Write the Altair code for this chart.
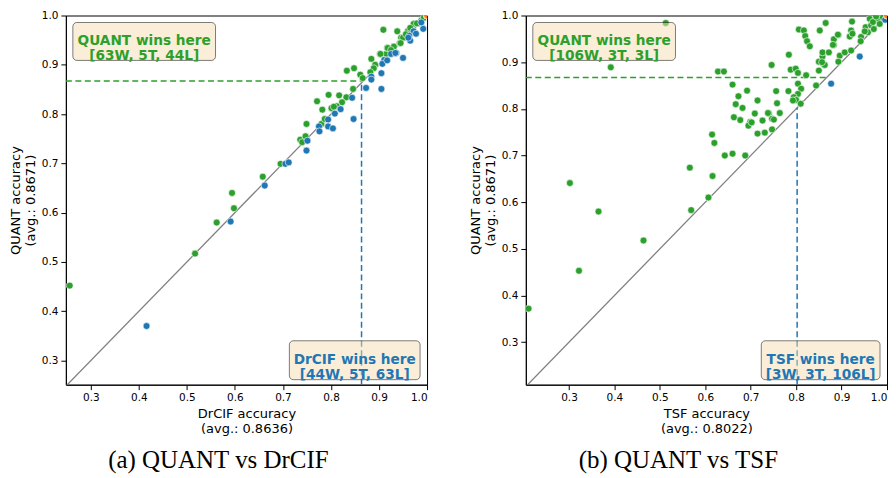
import altair as alt
import pandas as pd

# ---------------- data: QUANT vs DrCIF ----------------
dr_win_x = [0.909, 0.938, 0.960, 0.974, 0.981, 0.988, 0.993, 0.946, 0.952, 0.902, 0.915, 0.917,
            0.931, 0.943, 0.884, 0.892, 0.889, 0.882, 0.833, 0.848, 0.861, 0.846, 0.795, 0.817,
            0.832, 0.823, 0.771, 0.782, 0.801, 0.812, 0.780, 0.787, 0.749, 0.736, 0.740, 0.747,
            0.695, 0.658, 0.594, 0.598, 0.562, 0.517, 0.256, 0.972, 0.979, 0.950, 0.945, 0.918,
            0.903, 0.965, 0.956, 0.925, 0.866, 0.806]
dr_win_y = [0.971, 0.968, 0.968, 0.984, 0.984, 0.990, 0.995, 0.955, 0.955, 0.922, 0.922, 0.934,
            0.937, 0.944, 0.912, 0.900, 0.893, 0.885, 0.888, 0.893, 0.880, 0.851, 0.839, 0.838,
            0.834, 0.824, 0.826, 0.809, 0.812, 0.816, 0.780, 0.790, 0.780, 0.748, 0.743, 0.755,
            0.699, 0.673, 0.640, 0.609, 0.580, 0.517, 0.452, 0.983, 0.984, 0.955, 0.944, 0.934,
            0.922, 0.975, 0.962, 0.930, 0.873, 0.815]
dr_loss_x = [0.992, 0.972, 0.963, 0.965, 0.950, 0.936, 0.925, 0.911, 0.907, 0.905, 0.905, 0.884,
             0.884, 0.873, 0.844, 0.847, 0.820, 0.808, 0.794, 0.775, 0.776, 0.794, 0.804, 0.751,
             0.749, 0.705, 0.712, 0.662, 0.591, 0.416, 0.977, 0.934, 0.917, 0.988, 0.961]
dr_loss_y = [0.973, 0.968, 0.959, 0.949, 0.914, 0.924, 0.922, 0.910, 0.902, 0.883, 0.851, 0.876,
             0.870, 0.853, 0.833, 0.790, 0.810, 0.801, 0.789, 0.775, 0.765, 0.775, 0.771, 0.746,
             0.726, 0.699, 0.702, 0.655, 0.582, 0.370, 0.963, 0.924, 0.909, 0.986, 0.955]
dr_tie_x = [1.0, 1.0, 1.0, 1.0, 1.0]
dr_tie_y = [1.0, 1.0, 1.0, 1.0, 1.0]

# ---------------- data: QUANT vs TSF ----------------
tsf_win_x = [0.513, 0.392, 0.302, 0.628, 0.641, 0.660, 0.692, 0.673, 0.667, 0.682, 0.715, 0.663,
             0.677, 0.699, 0.695, 0.709, 0.726, 0.740, 0.747, 0.751, 0.764, 0.758, 0.756, 0.783,
             0.715, 0.731, 0.747, 0.615, 0.620, 0.643, 0.660, 0.688, 0.566, 0.616, 0.607, 0.784,
             0.746, 0.788, 0.799, 0.804, 0.822, 0.804, 0.811, 0.804, 0.795, 0.800, 0.810, 0.844,
             0.850, 0.850, 0.861, 0.858, 0.858, 0.872, 0.883, 0.883, 0.893, 0.865, 0.852, 0.806,
             0.817, 0.820, 0.824, 0.830, 0.896, 0.907, 0.921, 0.893, 0.918, 0.921, 0.924, 0.923,
             0.943, 0.942, 0.953, 0.958, 0.962, 0.965, 0.973, 0.980, 0.984, 0.991, 0.971, 0.951,
             0.969, 0.976, 0.365, 0.322, 0.464, 0.569, 0.211, 0.793, 0.702, 0.738, 0.881, 0.892,
             0.863, 0.857]
tsf_win_y = [0.984, 0.889, 0.641, 0.880, 0.880, 0.852, 0.839, 0.827, 0.810, 0.802, 0.818, 0.782,
             0.776, 0.772, 0.764, 0.790, 0.775, 0.790, 0.779, 0.777, 0.791, 0.812, 0.838, 0.838,
             0.747, 0.749, 0.756, 0.745, 0.727, 0.700, 0.704, 0.700, 0.674, 0.656, 0.610, 0.916,
             0.894, 0.884, 0.886, 0.877, 0.872, 0.854, 0.843, 0.832, 0.825, 0.819, 0.811, 0.850,
             0.882, 0.901, 0.895, 0.912, 0.921, 0.921, 0.937, 0.949, 0.958, 0.984, 0.968, 0.970,
             0.968, 0.956, 0.945, 0.934, 0.914, 0.921, 0.925, 0.901, 0.955, 0.968, 0.961, 0.987,
             0.954, 0.945, 0.975, 0.964, 0.993, 0.979, 0.989, 0.993, 0.982, 0.996, 0.971, 0.966,
             0.986, 0.998, 0.580, 0.453, 0.518, 0.583, 0.372, 0.818, 0.771, 0.791, 0.937, 0.959,
             0.894, 0.900]
tsf_loss_x = [0.940, 0.877, 0.996]
tsf_loss_y = [0.912, 0.854, 0.991]
tsf_tie_x = [1.0, 1.0, 1.0]
tsf_tie_y = [1.0, 1.0, 1.0]

outcomes = ["win", "loss", "tie"]
outcome_colors = ["#2ca02c", "#1f77b4", "#ff7f0e"]
tick_vals = [0.3, 0.4, 0.5, 0.6, 0.7, 0.8, 0.9, 1.0]

W, H = 362, 370


def frame(wx, wy, lx, ly, tx, ty):
    rows = []
    for o, xs, ys in (("win", wx, wy), ("loss", lx, ly), ("tie", tx, ty)):
        rows += [{"other": a, "quant": b, "outcome": o} for a, b in zip(xs, ys)]
    return pd.DataFrame(rows)


def panel(df, name, other_avg, quant_avg, lox, loy, top_text, bot_text, bot_box, caption):
    xs = alt.Scale(domain=[lox, 1.0], nice=False, zero=False)
    ys = alt.Scale(domain=[loy, 1.0], nice=False, zero=False)
    xax = alt.Axis(values=tick_vals, format=".1f",
                   title=[f"{name} accuracy", f"(avg.: {other_avg:.4f})"])
    yax = alt.Axis(values=tick_vals, format=".1f",
                   title=["QUANT accuracy", f"(avg.: {quant_avg:.4f})"])

    lo = min(lox, loy)
    diag = alt.Chart(pd.DataFrame({"v": [lo, 1.0]})).mark_line(
        color="#808080", strokeWidth=1.3, clip=True
    ).encode(x=alt.X("v:Q", scale=xs, axis=xax), y=alt.Y("v:Q", scale=ys, axis=yax))

    hline = alt.Chart(pd.DataFrame({"x": [lox], "x2": [quant_avg], "y": [quant_avg]})).mark_rule(
        color="#2ca02c", strokeWidth=1.5, strokeDash=[6, 3.5]
    ).encode(x=alt.X("x:Q", scale=xs), x2="x2:Q", y=alt.Y("y:Q", scale=ys))

    vline = alt.Chart(pd.DataFrame({"x": [other_avg], "y": [loy], "y2": [other_avg]})).mark_rule(
        color="#1f77b4", strokeWidth=1.5, strokeDash=[6, 3.5]
    ).encode(x=alt.X("x:Q", scale=xs), y=alt.Y("y:Q", scale=ys), y2="y2:Q")

    pts = alt.Chart(df).mark_circle(
        size=48, opacity=1, stroke="white", strokeWidth=0.6, clip=True
    ).encode(
        x=alt.X("other:Q", scale=xs),
        y=alt.Y("quant:Q", scale=ys),
        color=alt.Color("outcome:N", scale=alt.Scale(domain=outcomes, range=outcome_colors),
                        legend=None),
    )

    def box(text, color, x0, x1, y0, y1):
        d = pd.DataFrame({"t": [text]})
        r = alt.Chart(d).mark_rect(
            fill="#f5deb3", fillOpacity=0.5, stroke="black", strokeOpacity=0.5,
            strokeWidth=1, cornerRadius=4
        ).encode(x=alt.value(x0), x2=alt.value(x1), y=alt.value(y0), y2=alt.value(y1))
        t = alt.Chart(d).mark_text(
            font="DejaVu Sans", fontWeight="bold", fontSize=13.7, color=color,
            lineBreak="\n", lineHeight=15, align="center", baseline="middle"
        ).encode(text="t:N", x=alt.value((x0 + x1) / 2), y=alt.value((y0 + y1) / 2 - 0.5))
        return r + t

    top = box(top_text, "#2ca02c", 7, 150, 7, 45)
    bot = box(bot_text, "#1f77b4", bot_box[0], bot_box[1], 326, 365)

    return alt.layer(diag, hline, vline, pts, top, bot).properties(
        width=W, height=H,
        title=alt.TitleParams(caption, orient="bottom", anchor="middle", frame="bounds",
                              font="Liberation Serif", fontSize=25, fontWeight="normal",
                              color="black", offset=13),
    )


left = panel(frame(dr_win_x, dr_win_y, dr_loss_x, dr_loss_y, dr_tie_x, dr_tie_y),
             "DrCIF", 0.8636, 0.8671, 0.248, 0.251,
             "QUANT wins here\n[63W, 5T, 44L]", "DrCIF wins here\n[44W, 5T, 63L]",
             (224, 355), "(a) QUANT vs DrCIF")
right = panel(frame(tsf_win_x, tsf_win_y, tsf_loss_x, tsf_loss_y, tsf_tie_x, tsf_tie_y),
              "TSF", 0.8022, 0.8671, 0.205, 0.209,
              "QUANT wins here\n[106W, 3T, 3L]", "TSF wins here\n[3W, 3T, 106L]",
              (236, 355), "(b) QUANT vs TSF")

chart = alt.hconcat(left, right, spacing=40).properties(
    padding={"left": 0, "top": 1, "right": 0, "bottom": 0}
).configure_view(stroke="black", strokeWidth=1).configure_axis(
    labelFont="DejaVu Sans", labelFontSize=10.5, labelColor="black",
    titleFont="DejaVu Sans", titleFontSize=13, titleFontWeight="normal", titleColor="black",
    titleLineHeight=15, domainColor="black", tickColor="black", tickSize=5,
    labelPadding=3, titlePadding=4, grid=False
)

chart.save("out.html", embed_options={"renderer": "svg", "actions": False})
